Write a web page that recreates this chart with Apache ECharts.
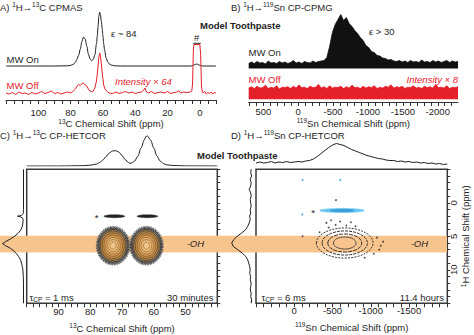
<!DOCTYPE html>
<html><head><meta charset="utf-8">
<script src="https://cdn.jsdelivr.net/npm/echarts@6/dist/echarts.min.js"></script>
<style>html,body{margin:0;padding:0;background:#fff}#c{width:474px;height:335px}</style>
</head><body><div id="c"></div>
<script>
// ================= DATA =================
// Panel A: 1H->13C CPMAS, [13C ppm, intensity]
const cpmasOn = [[120,0],[90,0],[82,0.2],[80,0.6],[78,2],[77,4],[76,7],[75,11],[74,17],[73,24.5],[72,29],[71,27],[70,20],[69,12],[68,7],[67,5.2],[66,6.5],[65,11],[64,22],[63.5,30],[63,40],[62.5,50],[62,54],[61.5,51],[61,45],[60.5,38],[60,30],[59.5,22],[59,16],[58,8],[57,4],[56,2],[55,1],[53,0.3],[50,0],[6,0],[5,0.2],[4,0.7],[3,1.5],[2,2],[1,1.5],[0,0.6],[-1,0.2],[-2,0],[-10,0]];
const cpmasOff = [[120,1],[118,0],[116,1.5],[114,-0.5],[112,2],[110,0.5],[108,1],[106,-0.5],[104,1.5],[102,0],[100,1],[98,2.5],[96,0.5],[94,1.5],[92,3],[90,0.5],[88,1.5],[86,0],[84,1],[82,2],[80,1],
  [79,2],[78,3.5],[77,5],[76,8],[75,9.5],[74,8.5],[73,10.5],[72,11],[71,9],[70,8],[69,5],[68,3],[67,2.5],[66.5,2],[66,3],[65,6],[64,13],[63.5,20],[63,28],[62.5,37],[62,41],[61.5,38],[61,30],[60.5,22],[60,15],[59.5,9],[59,6],[58,3.5],[57,2],[56,1],
  [54,0.5],[52,2],[50,0.5],[48,1.5],[46,2.5],[44,1],[42,2],[40,0.5],[38,1.5],[36,2],[35,3.5],[34,6],[33,2],[32,1],[30,2.5],[28,0.5],[26,1.5],[24,2],[22,1],[20,2.5],[18,0.5],[16,1.5],[14,2],[13,3.5],[12,1],[10,2],[8,1.5],[6,2],[5,3],[4.5,10],[4,45],[3.6,49.5],
  [0,49.5],[-0.5,40],[-1,8],[-1.5,2],[-2,1],[-3,2.5],[-4,0],[-5,1.5],[-6,0.5],[-7,2],[-8,0],[-9,1.5],[-10,1]];
const clipMark = [[4.2,50.7],[-0.6,50.7]];

// Panel B: 1H->119Sn CP-CPMG
const cpmgPpm = [710,670,630,590,550,510,470,430,390,350, 310,270,230,190,150,110,70,30,-10,-50,
  -90,-130,-170,-210,-250,-290,-330,-370,-410,-450, -490,-530,-570,-610,-650,-690,-730,-770,-810,-850,
  -890,-930,-970,-1010,-1050,-1090,-1130,-1170,-1210,-1250, -1290,-1330,-1370,-1410,-1450,-1490,-1530,-1570,-1610,-1650,
  -1690,-1730,-1770,-1810,-1850,-1890,-1930,-1970,-2010,-2050, -2090,-2130,-2170,-2210,-2250,-2290];
const cpmgOn = [5,6.5,5,7,5.5,6,4.5,7.5,5.5,6, 5,7,5.5,6.5,5,6,8,5.5,6.5,5,
  7,6,5.5,7.5,6,7,7.5,8,11,22, 36,44,49,54,48,51,45,42,38,35,
  31,28,23,21,17,16,13,12.5,10.5,10, 8.5,9,7.5,7,8,6.5,7.5,6,8,6.5,
  7,6,8.5,6.5,7,6,8,6.5,7.5,6, 7,8,6,7.5,6.5,7];
const cpmgOff = [12,13.5,11.5,14,12,12.5,15,11.5,13,12, 14.5,11,13,12.5,13.5,11.5,14,12,15.5,12.5,
  13,11.5,14,12.5,13,16,12,13.5,11.5,14.5, 12,13,12.5,14,11.5,13.5,12,15,12.5,13,
  11.5,14,12,13.5,12.5,14.5,11.5,13,12,14, 13,15.5,12,13.5,12.5,14,11.5,13,12.5,14.5,
  12,13,11.5,14,12.5,13.5,12,16,12.5,13, 12,14.5,11.5,13,12.5,13.5];

// Panel C: 1H->13C CP-HETCOR projections
const hetcorCTop = [[100,0],[90,0],[82,0.3],[80,0.8],[78,2],[77,3.5],[76,6],[75,9.5],[74,13],[73,15],[72,15.3],[71,14],[70,10.5],[69,6.5],[68,3.5],[67.5,2.7],[67,3],[66,5],[65,10],[64,18],[63,26],[62.5,29.5],[62,30],[61,26],[60,18],[59,10],[58,5],[57,2.5],[56,1.2],[54,0.5],[50,0.1],[40,0]];
const hetcorCLeft = [[0,-5],[0,1],[0.3,1.6],[2,1.9],[6,2.0],[3,2.1],[0.8,2.3],[0.4,2.6],[0.6,3],[1.2,3.5],[2.5,4],[5,4.5],[9,5],[13,5.4],[18,5.8],[21,6.1],[18,6.4],[13,6.8],[9.5,7.2],[7,7.6],[5,8],[3,8.5],[2,9],[1.2,9.5],[0.6,10],[0.2,11],[0,12],[0,15]];
// contour blobs: [13C centre, 1H centre, half-width, half-height]
const hetcorCBlobs = [[72.8,6.4,5.3,2.9],[62.3,6.4,5.3,2.9]];
const hetcorCStreaks = [[72.4,2.0,3.3,0.22],[62.0,2.0,3.3,0.22]];

// Panel D: 1H->119Sn CP-HETCOR projections
const hetcorDTop = [[500,0.5],[450,1.5],[400,0.5],[350,1],[300,2],[250,0.5],[200,1.5],[150,1],[100,2],[50,1],[0,1.5],[-50,2],[-100,1.5],[-150,2.5],[-200,3],[-250,4.5],[-300,7],[-350,10],[-400,13],[-450,16],[-500,18.5],[-550,20],[-600,19],[-650,18],[-700,16],[-750,14],[-800,12.5],[-850,11],[-900,9.5],[-950,8],[-1000,7],[-1050,6],[-1100,5],[-1150,4.5],[-1200,3.5],[-1250,3],[-1300,3],[-1350,2],[-1400,2.5],[-1450,1.5],[-1500,2],[-1550,1],[-1600,1.5],[-1650,0.5],[-1700,1],[-1750,0],[-1800,0.5],[-1850,-0.5],[-1900,0],[-1950,-1],[-2000,-0.5]];
const hetcorDLeft = [[0.5,-5],[1,-4.5],[0,-4],[1.5,-3.5],[0.5,-3],[1,-2.5],[2.5,-2],[1,-1.5],[0.5,-1],[1.5,-0.5],[1,0],[0.5,0.5],[1.5,1],[1,1.5],[2,2],[1.5,2.5],[2.5,3],[4,3.5],[6,4],[10,4.5],[14.5,5],[18,5.5],[20,6],[18.5,6.5],[14,7],[9.5,7.5],[6,8],[4,8.5],[3,9],[2,9.5],[1.5,10],[2,10.5],[1,11],[1.5,11.5],[0.5,12],[1,12.5],[1.5,13],[0.5,13.5],[1,14],[0,14.5],[0.5,15]];
const hetcorDBlobs = [[-660,6.0,370,2.25]];
const hetcorDStreaks = [[-625,1.15,290,0.3]];
const hetcorDDotsBlack = [[-545,-0.4],[-108,5.0],[-420,3.0],[-480,2.6],[-540,3.3],[-600,2.8],[-680,3.4],[-740,2.9],[-800,3.5],[-450,3.7],[-1080,5.2],[-1130,6.4],[-1110,7.0],[-1160,5.8],[-1040,7.6],[-330,4.4],[-920,8.2]];
const hetcorDDotsBlue = [[-108,-3.4],[-601,-3.4],[-105,1.75]];

// OH band (1H ppm)
const ohBand = [[4.9,7.4]];

// tick labels
const labelsA = [100,80,60,40,20,0];
const labelsB = [500,0,-500,-1000,-1500,-2000];
const labelsC = [90,80,70,60,50];
const labelsD = [0,-500,-1000,-1500];
const labelsH = [0,5,10];

// ================= STYLE =================
const FONT = '"Liberation Sans", Arial, Helvetica, sans-serif';
const INK = '#1e1e1e', RED = '#e4212b', AXIS = '#333', BAND = '#f8c48e';
const A_ON_BASE = 34, A_OFF_BASE = 6;
function range(a, b, s) { const r = []; for (let v = a; v <= b + 1e-9; v += s) r.push(v); return r; }
const ticksA = range(-10, 120, 5), ticksB = range(-2200, 700, 100), ticksC = range(40, 100, 2), ticksD = range(-2000, 500, 100), ticksH = range(-5, 15, 1);

const RICH = {
  n: { fontSize: 9.5, lineHeight: 12, fontFamily: FONT },
  s: { fontSize: 6.5, lineHeight: 6, verticalAlign: 'top', fontFamily: FONT },
  u: { fontSize: 6.5, lineHeight: 6, verticalAlign: 'bottom', fontFamily: FONT }
};
function txt(x, y, text, o = {}) {
  const rich = {};
  for (const k in RICH) rich[k] = Object.assign({}, RICH[k], { fill: o.color || INK, fontWeight: o.weight || 'normal', fontStyle: o.style || 'normal' });
  return { type: 'text', x, y, z: 100, style: {
    text, fill: o.color || INK, fontSize: o.size || 9.5, fontFamily: FONT,
    fontWeight: o.weight || 'normal', fontStyle: o.style || 'normal',
    align: o.align || 'left', verticalAlign: 'middle', rich } };
}
const plain = v => String(v);

const hid = (gi, min, max, inverse) => ({ type: 'value', gridIndex: gi, min, max, inverse: !!inverse, show: false });
const nameStyle = { color: INK, fontFamily: FONT, fontSize: 9.5, rich: RICH };
function xVis(gi, min, max, ticks, labels, name, margin, gap, showLine) {
  return { type: 'value', gridIndex: gi, min, max, inverse: true,
    axisLine: { show: showLine, onZero: false, lineStyle: { color: AXIS, width: 1 } },
    axisTick: { show: true, customValues: ticks, length: 4, lineStyle: { color: AXIS, width: 1 } },
    axisLabel: { customValues: labels, margin, color: INK, fontFamily: FONT, fontSize: 9.5, formatter: plain },
    splitLine: { show: false },
    name, nameLocation: 'middle', nameGap: gap, nameTextStyle: nameStyle };
}

const levelsC = [
  { f: 1.0, stroke: '#666', fill: 'rgba(170,170,170,0.55)', w: 0.8, dash: [1.5, 1] },
  { f: 0.95, stroke: '#2a2a2a', fill: 'rgba(130,130,130,0.5)', w: 0.8, dash: [2, 1] },
  { f: 0.9, stroke: '#333', fill: '#8f8a84', w: 0.8 },
  { f: 0.84, stroke: '#2e2e2e', fill: '#9a8468', w: 0.8 },
  { f: 0.76, stroke: '#4f3a1e', fill: '#b4884f', w: 0.8 },
  { f: 0.66, stroke: '#6b4a20', fill: '#c48f4e', w: 0.8 },
  { f: 0.55, stroke: '#855822', fill: '#d49c5a', w: 0.8 },
  { f: 0.43, stroke: '#96672a', fill: '#deac6c', w: 0.8 },
  { f: 0.31, stroke: '#a47230', fill: '#e8bb80', w: 0.8 },
  { f: 0.18, stroke: '#ad7a34', fill: '#f0c78e', w: 0.8 }
];
const levelsD = [
  { f: 1.0, stroke: '#222', w: 0.9, dash: [2, 1.2] },
  { f: 0.8, stroke: '#222', w: 0.9, dash: [3, 1] },
  { f: 0.6, stroke: '#222', w: 0.9, dash: [4, 1] },
  { f: 0.4, stroke: '#333', w: 0.8 }
];
const streakC = [{ f: 1, stroke: '#333', fill: '#222', w: 0.5 }];
const streakD = [{ f: 1, stroke: '#5ec2ee', fill: '#6cc8f0', w: 0.6 }, { f: 0.55, stroke: '#2f8fd3', fill: '#3a9ad8', w: 0.5 }];

function ellipses(levels) {
  return function (params, api) {
    const c = api.coord([api.value(0), api.value(1)]);
    const s = api.size([api.value(2), api.value(3)]);
    const rx = Math.abs(s[0]), ry = Math.abs(s[1]);
    return { type: 'group', children: levels.map(l => ({
      type: 'ellipse', shape: { cx: c[0], cy: c[1], rx: rx * l.f, ry: ry * l.f },
      style: { fill: l.fill || null, stroke: l.stroke, lineWidth: l.w, lineDash: l.dash || null } })) };
  };
}
const lineS = (xi, yi, data, color, extra) => Object.assign({ type: 'line', xAxisIndex: xi, yAxisIndex: yi, data, symbol: 'none', showSymbol: false, lineStyle: { color, width: 1 }, z: 3, silent: true }, extra || {});

const option = {
  animation: false,
  grid: [
    { left: 6, top: 0, width: 210, height: 100 },            // 0 A
    { left: 248.7, top: 0, width: 209.3, height: 68.5 },     // 1 B on
    { left: 248.7, top: 76, width: 209.3, height: 26 },      // 2 B off
    { left: 0, top: 169.3, width: 447, height: 134 },        // 3 band
    { left: 26.7, top: 169.3, width: 190.6, height: 134, show: true, borderColor: '#3a3a3a', borderWidth: 1.5, backgroundColor: 'transparent' }, // 4 C
    { left: 26.7, top: 128, width: 190.6, height: 38 },      // 5 C top
    { left: 0, top: 169.3, width: 23.5, height: 134 },       // 6 C left
    { left: 256, top: 169.3, width: 191.3, height: 134, show: true, borderColor: '#3a3a3a', borderWidth: 1.5, backgroundColor: 'transparent' }, // 7 D
    { left: 256, top: 135, width: 191.3, height: 30.5 },     // 8 D top
    { left: 230, top: 169.3, width: 21.7, height: 134 }      // 9 D left
  ],
  xAxis: [
    xVis(0, -10, 120, ticksA, labelsA, '{s|13}{n|C Chemical Shift (ppm)}', 7, 14, true),
    hid(1, -2290, 710, true),
    xVis(2, -2290, 710, ticksB, labelsB, '{s|119}{n|Sn Chemical Shift (ppm)}', 4.5, 13.5, true),
    hid(3, 0, 1),
    xVis(4, 40, 100, ticksC, labelsC, '{s|13}{n|C Chemical Shift (ppm)}', 3.5, 19, false),
    hid(5, 40, 100, true),
    hid(6, 0, 23.5, true),
    xVis(7, -2000, 500, ticksD, labelsD, '{s|119}{n|Sn Chemical Shift (ppm)}', 2.5, 18, false),
    hid(8, -2000, 500, true),
    hid(9, 0, 21.7, true)
  ],
  yAxis: [
    hid(0, 0, 100), hid(1, 0, 68.5), hid(2, -3, 25), hid(3, -5, 15, true),
    { type: 'value', gridIndex: 4, min: -5, max: 15, inverse: true, position: 'right',
      axisLine: { show: false, onZero: false }, axisTick: { show: true, customValues: ticksH, length: 3, lineStyle: { color: AXIS } },
      axisLabel: { show: false }, splitLine: { show: false } },
    hid(5, 0, 38), hid(6, -5, 15, true),
    { type: 'value', gridIndex: 7, min: -5, max: 15, inverse: true, position: 'right',
      axisLine: { show: false, onZero: false }, axisTick: { show: true, customValues: ticksH, length: 3, lineStyle: { color: AXIS } },
      axisLabel: { customValues: labelsH, rotate: 90, margin: 1.5, color: INK, fontFamily: FONT, fontSize: 9.5, formatter: plain },
      splitLine: { show: false },
      name: '{s|1}{n|H Chemical Shift (ppm)}', nameLocation: 'middle', nameGap: 11, nameRotate: 90, nameTextStyle: nameStyle },
    hid(8, -2, 28.5), hid(9, -5, 15, true)
  ],
  series: [
    { type: 'custom', xAxisIndex: 3, yAxisIndex: 3, data: ohBand, z: 1, silent: true,
      renderItem(params, api) {
        const p0 = api.coord([0, api.value(0)]), p1 = api.coord([1, api.value(1)]);
        return { type: 'rect', shape: { x: p0[0], y: Math.min(p0[1], p1[1]), width: p1[0] - p0[0], height: Math.abs(p1[1] - p0[1]) }, style: { fill: BAND } };
      } },
    // A
    lineS(0, 0, cpmasOn.map(d => [d[0], d[1] + A_ON_BASE]), INK, { smooth: 0.3, smoothMonotone: 'x' }),
    lineS(0, 0, cpmasOff.map(d => [d[0], d[1] + A_OFF_BASE]), RED),
    lineS(0, 0, clipMark.map(d => [d[0], d[1] + A_OFF_BASE]), '#555', { lineStyle: { color: '#555', width: 1.3 } }),
    // B
    lineS(1, 1, cpmgPpm.map((p, i) => [p, cpmgOn[i]]), '#111', { lineStyle: { color: '#111', width: 0.8 }, areaStyle: { color: '#111', opacity: 1 } }),
    lineS(2, 2, cpmgPpm.map((p, i) => [p, cpmgOff[i]]), RED, { lineStyle: { color: RED, width: 0.8 }, areaStyle: { color: RED, opacity: 1 } }),
    // C
    { type: 'custom', xAxisIndex: 4, yAxisIndex: 4, data: hetcorCBlobs, z: 4, silent: true, renderItem: ellipses(levelsC) },
    { type: 'custom', xAxisIndex: 4, yAxisIndex: 4, data: hetcorCStreaks, z: 4, silent: true, renderItem: ellipses(streakC) },
    lineS(5, 5, hetcorCTop, INK, { smooth: 0.3, smoothMonotone: 'x' }),
    lineS(6, 6, hetcorCLeft, INK),
    // D
    { type: 'custom', xAxisIndex: 7, yAxisIndex: 7, data: hetcorDBlobs, z: 4, silent: true, renderItem: ellipses(levelsD) },
    { type: 'custom', xAxisIndex: 7, yAxisIndex: 7, data: hetcorDStreaks, z: 4, silent: true, renderItem: ellipses(streakD) },
    { type: 'scatter', xAxisIndex: 7, yAxisIndex: 7, data: hetcorDDotsBlack, symbolSize: 1.8, itemStyle: { color: '#222' }, z: 4, silent: true },
    { type: 'scatter', xAxisIndex: 7, yAxisIndex: 7, data: hetcorDDotsBlue, symbolSize: 2, itemStyle: { color: '#3aa0dc' }, z: 4, silent: true },
    lineS(8, 8, hetcorDTop, INK),
    lineS(9, 9, hetcorDLeft, INK)
  ],
  graphic: [
    txt(0, 7, '{n|A) }{s|1}{n|H→}{s|13}{n|C CPMAS}'),
    txt(231, 7, '{n|B) }{s|1}{n|H→}{s|119}{n|Sn CP-CPMG}'),
    txt(200, 25, '{n|Model Toothpaste}', { weight: 'bold' }),
    txt(111, 33, '{n|ε ~ 84}'),
    txt(369, 31, '{n|ε > 30}'),
    txt(6.5, 59, '{n|MW On}'),
    txt(6.5, 85, '{n|MW Off}', { color: RED }),
    txt(115, 81, '{n|Intensity × 64}', { color: RED, style: 'italic' }),
    txt(196.7, 37, '{n|#}', { align: 'center' }),
    txt(248.5, 52, '{n|MW On}'),
    txt(248.5, 79.5, '{n|MW Off}', { color: RED }),
    txt(458, 79.5, '{n|Intensity × 8}', { color: RED, style: 'italic', align: 'right' }),
    txt(0, 135, '{n|C) }{s|1}{n|H→}{s|13}{n|C CP-HETCOR}'),
    txt(231, 135, '{n|D) }{s|1}{n|H→}{s|119}{n|Sn CP-HETCOR}'),
    txt(197, 155, '{n|Model Toothpaste}', { weight: 'bold' }),
    txt(96.7, 217, '{n|*}', { align: 'center' }),
    txt(313, 212, '{n|*}', { align: 'center' }),
    txt(186.7, 243, '{n|-OH}', { style: 'italic' }),
    txt(410.7, 243, '{n|-OH}', { style: 'italic' }),
    txt(29.5, 297, '{n|τ}{u|CP}{n| = 1 ms}'),
    txt(213.5, 297, '{n|30 minutes}', { align: 'right' }),
    txt(261.5, 297, '{n|τ}{u|CP}{n| = 6 ms}'),
    txt(444, 297, '{n|11.4 hours}', { align: 'right' })
  ]
};
const chart = echarts.init(document.getElementById('c'), null, { renderer: 'svg' });
chart.setOption(option);
</script>
</body></html>
